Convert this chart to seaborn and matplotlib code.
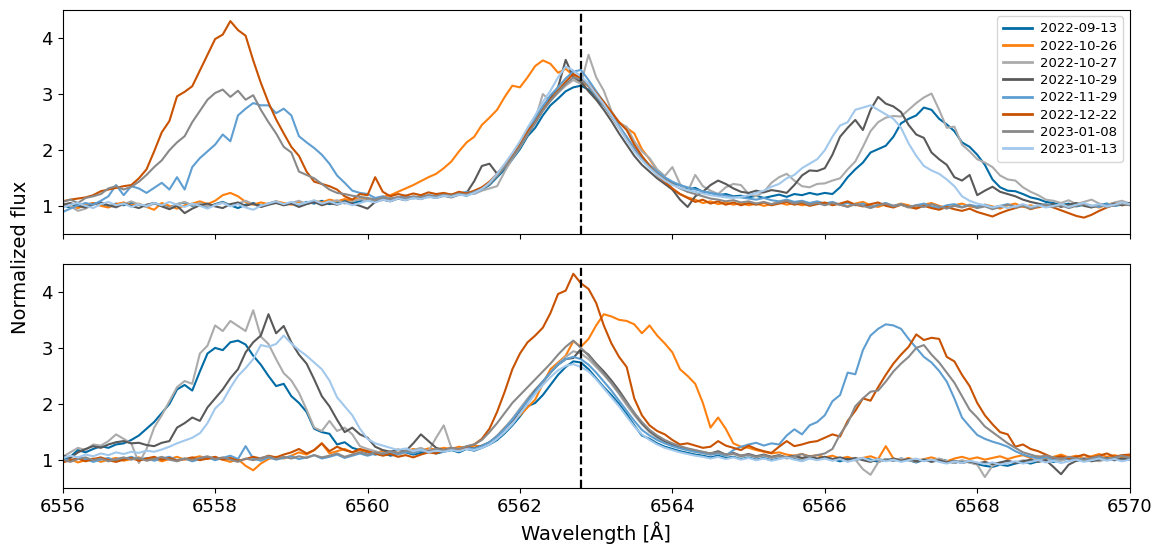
import numpy as np
import pandas as pd
import matplotlib
matplotlib.use("Agg")
import matplotlib.pyplot as plt
import seaborn as sns

# wavelength grid of the spectra (Angstrom)
wavelength = np.round(np.arange(6556.0, 6570.05, 0.1), 1)
line_center = 6562.8

dates = ["2022-09-13", "2022-10-26", "2022-10-27", "2022-10-29",
         "2022-11-29", "2022-12-22", "2023-01-08", "2023-01-13"]
colors = ["#006BA4", "#FF800E", "#ABABAB", "#595959",
          "#5F9ED1", "#C85200", "#898989", "#A2C8EC"]

###### top panel fluxes ######
top_0913 = [
    1.02, 0.98, 1.04, 1.01, 1.06, 1.03, 0.99, 1.05, 1.02, 1.07,
    1.03, 1.00, 1.06, 1.02, 0.98, 1.04, 1.07, 1.01, 1.05, 0.99,
    1.04, 1.08, 1.02, 0.97, 1.03, 1.06, 1.01, 1.05, 1.09, 1.03,
    1.06, 1.02, 1.08, 1.05, 1.10, 1.04, 1.07, 1.11, 1.06, 1.09,
    1.12, 1.08, 1.13, 1.10, 1.15, 1.12, 1.17, 1.14, 1.18, 1.16,
    1.20, 1.17, 1.22, 1.19, 1.25, 1.30, 1.38, 1.52, 1.66, 1.84,
    2.02, 2.25, 2.40, 2.62, 2.80, 2.92, 3.05, 3.12, 3.15, 3.08,
    2.92, 2.80, 2.62, 2.42, 2.22, 2.02, 1.86, 1.72, 1.60, 1.50,
    1.42, 1.38, 1.30, 1.33, 1.26, 1.24, 1.20, 1.22, 1.18, 1.19,
    1.16, 1.19, 1.15, 1.18, 1.21, 1.17, 1.22, 1.20, 1.24, 1.21,
    1.24, 1.22, 1.34, 1.52, 1.66, 1.78, 1.96, 2.02, 2.08, 2.24,
    2.48, 2.56, 2.62, 2.76, 2.72, 2.56, 2.46, 2.34, 2.14, 2.06,
    1.92, 1.74, 1.48, 1.34, 1.28, 1.27, 1.22, 1.16, 1.13, 1.08,
    1.06, 1.02, 1.05, 1.00, 1.03, 0.99, 1.02, 1.05, 1.01, 1.03,
    1.04]
top_1026 = [
    1.04, 1.00, 0.97, 1.03, 1.06, 1.01, 0.98, 1.04, 1.07, 1.02,
    1.05, 0.99, 0.94, 1.06, 1.01, 0.96, 1.02, 1.05, 1.09, 1.04,
    1.10, 1.20, 1.24, 1.18, 1.08, 1.03, 1.07, 1.04, 1.09, 1.06,
    1.03, 1.08, 1.05, 1.10, 1.07, 1.12, 1.09, 1.13, 1.10, 1.15,
    1.14, 1.12, 1.17, 1.20, 1.26, 1.32, 1.38, 1.45, 1.52, 1.58,
    1.68, 1.80, 1.98, 2.14, 2.24, 2.45, 2.58, 2.72, 2.95, 3.15,
    3.12, 3.30, 3.50, 3.60, 3.54, 3.38, 3.45, 3.33, 3.22, 3.14,
    3.00, 2.85, 2.66, 2.50, 2.40, 2.30, 2.02, 1.84, 1.64, 1.46,
    1.30, 1.22, 1.16, 1.12, 1.06, 1.09, 1.04, 1.07, 1.03, 1.06,
    1.02, 1.05, 1.01, 1.04, 1.07, 1.03, 1.06, 1.02, 1.05, 1.08,
    1.04, 1.07, 1.03, 1.00, 1.05, 1.08, 1.02, 0.99, 1.04, 1.01,
    1.05, 1.02, 0.98, 1.03, 1.06, 1.01, 0.97, 1.02, 1.05, 1.00,
    0.98, 1.03, 1.00, 0.96, 1.02, 1.05, 0.99, 1.02, 0.98, 1.03,
    1.00, 1.04, 0.99, 1.02, 1.05, 1.01, 0.98, 1.03, 1.06, 1.02,
    1.04]
top_1027 = [
    1.05, 1.00, 0.92, 0.96, 1.03, 1.07, 1.02, 0.98, 1.04, 1.09,
    1.03, 0.99, 1.05, 1.01, 0.97, 1.04, 1.08, 1.02, 1.06, 1.00,
    1.03, 1.07, 1.01, 1.05, 1.10, 1.04, 0.99, 1.03, 1.08, 1.02,
    1.06, 1.10, 1.04, 1.08, 1.03, 1.07, 1.11, 1.05, 1.09, 1.13,
    1.10, 1.14, 1.11, 1.16, 1.13, 1.17, 1.15, 1.19, 1.16, 1.21,
    1.18, 1.22, 1.20, 1.24, 1.22, 1.28, 1.32, 1.36, 1.62, 1.85,
    2.05, 2.28, 2.55, 3.00, 2.88, 3.02, 3.15, 3.25, 3.18, 3.70,
    3.30, 3.06, 2.70, 2.48, 2.42, 2.16, 1.98, 1.86, 1.66, 1.54,
    1.70, 1.40, 1.26, 1.56, 1.36, 1.28, 1.22, 1.34, 1.40, 1.38,
    1.22, 1.18, 1.26, 1.42, 1.52, 1.58, 1.46, 1.36, 1.34, 1.40,
    1.41, 1.46, 1.50, 1.66, 1.80, 2.06, 2.34, 2.50, 2.58, 2.61,
    2.60, 2.72, 2.84, 2.94, 3.01, 2.72, 2.40, 2.42, 2.10, 1.98,
    1.84, 1.78, 1.70, 1.55, 1.48, 1.46, 1.34, 1.26, 1.20, 1.12,
    1.10, 1.06, 1.11, 1.04, 1.08, 1.12, 1.05, 1.02, 1.07, 1.10,
    1.05]
top_1029 = [
    1.03, 1.06, 1.01, 0.98, 1.04, 1.07, 1.02, 0.99, 1.05, 1.01,
    0.97, 1.03, 1.06, 1.00, 0.95, 1.01, 0.88, 0.96, 1.02, 1.05,
    1.00, 0.97, 1.04, 1.07, 1.01, 1.05, 0.99, 1.03, 1.06, 1.02,
    1.05, 0.99, 1.04, 1.08, 1.02, 1.06, 1.03, 1.08, 1.05, 1.01,
    0.96, 1.08, 1.12, 1.09, 1.14, 1.11, 1.16, 1.13, 1.18, 1.15,
    1.19, 1.16, 1.21, 1.24, 1.45, 1.72, 1.76, 1.58, 1.74, 1.90,
    2.10, 2.34, 2.56, 2.78, 2.95, 3.12, 3.61, 3.30, 3.22, 3.05,
    2.90, 2.72, 2.52, 2.30, 2.10, 1.90, 1.74, 1.62, 1.50, 1.40,
    1.30, 1.12, 0.99, 1.18, 1.26, 1.38, 1.46, 1.40, 1.32, 1.26,
    1.24, 1.28, 1.25, 1.29, 1.27, 1.24, 1.38, 1.55, 1.64, 1.63,
    1.68, 1.92, 2.24, 2.40, 2.54, 2.36, 2.72, 2.95, 2.83, 2.78,
    2.68, 2.45, 2.28, 2.22, 1.96, 1.84, 1.74, 1.52, 1.46, 1.56,
    1.20, 1.28, 1.35, 1.26, 1.22, 1.18, 1.12, 1.08, 1.05, 1.02,
    1.04, 0.99, 1.03, 1.06, 1.01, 0.98, 1.03, 1.00, 1.05, 1.02,
    1.06]
top_1129 = [
    0.90, 0.96, 1.02, 1.06, 1.03, 1.10, 1.18, 1.38, 1.20, 1.36,
    1.32, 1.24, 1.33, 1.42, 1.30, 1.52, 1.30, 1.70, 1.86, 1.98,
    2.10, 2.28, 2.16, 2.62, 2.74, 2.84, 2.80, 2.80, 2.66, 2.74,
    2.62, 2.25, 2.14, 2.04, 1.92, 1.76, 1.55, 1.42, 1.28, 1.24,
    1.22, 1.15, 1.18, 1.13, 1.16, 1.19, 1.14, 1.17, 1.20, 1.18,
    1.21, 1.19, 1.23, 1.26, 1.24, 1.30, 1.40, 1.55, 1.72, 1.90,
    2.10, 2.36, 2.55, 2.78, 2.98, 3.12, 3.28, 3.40, 3.43, 3.25,
    3.05, 2.86, 2.64, 2.44, 2.24, 2.04, 1.88, 1.74, 1.62, 1.52,
    1.44, 1.38, 1.34, 1.30, 1.27, 1.24, 1.22, 1.19, 1.17, 1.16,
    1.14, 1.12, 1.15, 1.11, 1.09, 1.12, 1.08, 1.10, 1.06, 1.09,
    1.05, 1.08, 1.03, 1.06, 1.02, 1.05, 0.99, 1.03, 1.06, 1.01,
    1.04, 0.99, 1.02, 1.05, 1.00, 0.97, 1.02, 1.04, 0.99, 1.03,
    1.00, 1.03, 0.98, 1.01, 1.04, 0.99, 1.02, 0.97, 1.01, 1.04,
    1.00, 1.03, 0.98, 1.02, 1.05, 1.01, 0.99, 1.04, 1.01, 1.05,
    1.03]
top_1222 = [
    1.09, 1.12, 1.14, 1.16, 1.20, 1.27, 1.30, 1.33, 1.36, 1.38,
    1.50, 1.66, 1.98, 2.32, 2.52, 2.96, 3.04, 3.14, 3.42, 3.70,
    3.98, 4.06, 4.30, 4.14, 4.04, 3.60, 3.20, 2.85, 2.55, 2.30,
    2.06, 1.90, 1.62, 1.44, 1.40, 1.36, 1.30, 1.18, 1.12, 1.22,
    1.20, 1.52, 1.26, 1.18, 1.22, 1.19, 1.23, 1.20, 1.25, 1.22,
    1.24, 1.21, 1.26, 1.23, 1.28, 1.34, 1.44, 1.58, 1.74, 1.92,
    2.12, 2.34, 2.50, 2.72, 2.90, 3.06, 3.22, 3.36, 3.28, 3.18,
    3.02, 2.86, 2.68, 2.50, 2.36, 2.10, 1.90, 1.72, 1.56, 1.44,
    1.32, 1.22, 1.15, 1.08, 1.12, 1.05, 1.09, 1.03, 1.07, 1.02,
    1.06, 1.03, 1.07, 1.02, 1.05, 1.08, 1.03, 1.06, 1.01, 1.04,
    1.07, 1.02, 1.05, 1.09, 1.03, 1.00, 1.04, 1.07, 1.01, 0.98,
    1.03, 0.99, 0.96, 1.01, 0.97, 0.94, 0.99, 0.95, 0.92, 0.96,
    0.90, 0.86, 0.82, 0.88, 0.93, 0.97, 1.01, 0.95, 0.99, 1.02,
    0.98, 0.93, 0.88, 0.83, 0.80, 0.85, 0.92, 0.98, 1.03, 1.06,
    1.03]
top_0108 = [
    1.08, 1.12, 1.06, 1.15, 1.18, 1.22, 1.32, 1.36, 1.30, 1.35,
    1.44, 1.56, 1.70, 1.82, 2.00, 2.14, 2.25, 2.50, 2.70, 2.90,
    3.02, 3.08, 2.95, 3.06, 2.90, 2.98, 2.72, 2.50, 2.30, 2.06,
    1.96, 1.62, 1.56, 1.50, 1.40, 1.30, 1.24, 1.22, 1.19, 1.17,
    1.15, 1.12, 1.16, 1.13, 1.17, 1.14, 1.18, 1.16, 1.20, 1.18,
    1.21, 1.19, 1.23, 1.21, 1.26, 1.31, 1.40, 1.54, 1.70, 1.87,
    2.06, 2.28, 2.48, 2.70, 2.88, 3.04, 3.18, 3.30, 3.26, 3.14,
    2.96, 2.80, 2.60, 2.40, 2.20, 2.00, 1.84, 1.70, 1.58, 1.48,
    1.40, 1.32, 1.26, 1.22, 1.18, 1.14, 1.12, 1.09, 1.11, 1.07,
    1.09, 1.05, 1.08, 1.04, 1.07, 1.10, 1.05, 1.08, 1.03, 1.06,
    1.02, 1.06, 1.03, 0.99, 1.04, 1.01, 0.97, 1.02, 1.05, 1.00,
    1.03, 0.98, 1.02, 0.99, 1.04, 1.00, 0.96, 1.01, 0.98, 1.02,
    0.97, 1.00, 0.95, 0.99, 1.03, 0.98, 1.01, 0.96, 1.00, 1.03,
    0.99, 1.02, 0.97, 1.01, 1.04, 1.00, 1.03, 0.99, 1.02, 1.05,
    1.02]
top_0113 = [
    0.98, 1.03, 1.06, 1.01, 0.97, 1.04, 1.08, 1.02, 1.05, 0.99,
    1.04, 1.01, 1.06, 1.02, 1.08, 1.03, 0.99, 1.05, 1.01, 0.96,
    1.02, 1.06, 1.00, 1.04, 0.98, 0.94, 1.01, 1.05, 1.09, 1.04,
    1.08, 1.03, 1.07, 1.11, 1.05, 1.09, 1.04, 1.07, 1.02, 1.06,
    1.10, 1.07, 1.12, 1.09, 1.14, 1.11, 1.15, 1.13, 1.17, 1.15,
    1.19, 1.17, 1.21, 1.19, 1.24, 1.31, 1.42, 1.58, 1.76, 1.95,
    2.16, 2.40, 2.62, 2.86, 3.06, 3.30, 3.49, 3.42, 3.32, 3.18,
    3.00, 2.82, 2.62, 2.40, 2.18, 1.98, 1.82, 1.68, 1.56, 1.46,
    1.38, 1.33, 1.29, 1.26, 1.23, 1.20, 1.18, 1.16, 1.15, 1.17,
    1.20, 1.24, 1.28, 1.35, 1.40, 1.50, 1.56, 1.68, 1.76, 1.84,
    2.00, 2.24, 2.44, 2.50, 2.72, 2.76, 2.80, 2.72, 2.64, 2.56,
    2.40, 2.12, 1.90, 1.72, 1.64, 1.58, 1.48, 1.36, 1.18, 1.10,
    1.05, 1.02, 0.98, 1.01, 0.97, 1.00, 1.04, 0.99, 1.02, 0.98,
    1.01, 1.04, 0.99, 1.03, 1.06, 1.01, 1.04, 1.00, 1.03, 1.07,
    1.04]

###### bottom panel fluxes ######
bot_0913 = [
    1.00, 1.06, 1.18, 1.14, 1.20, 1.25, 1.22, 1.28, 1.30, 1.36,
    1.44, 1.56, 1.68, 1.84, 2.00, 2.26, 2.34, 2.24, 2.58, 2.90,
    3.00, 2.96, 3.10, 3.13, 3.06, 2.86, 2.70, 2.50, 2.32, 2.36,
    2.14, 2.02, 1.86, 1.56, 1.50, 1.47, 1.28, 1.32, 1.22, 1.18,
    1.14, 1.10, 1.13, 1.08, 1.11, 1.14, 1.10, 1.13, 1.16, 1.12,
    1.15, 1.18, 1.14, 1.20, 1.17, 1.22, 1.28, 1.36, 1.48, 1.62,
    1.78, 1.96, 2.02, 2.16, 2.34, 2.52, 2.66, 2.76, 2.74, 2.62,
    2.46, 2.30, 2.16, 2.00, 1.82, 1.62, 1.44, 1.38, 1.30, 1.24,
    1.20, 1.16, 1.13, 1.10, 1.08, 1.05, 1.08, 1.04, 1.06, 1.02,
    1.05, 1.01, 1.04, 1.00, 1.03, 1.06, 1.02, 0.99, 1.04, 1.01,
    1.05, 1.02, 0.98, 1.03, 1.00, 1.04, 1.01, 0.97, 1.02, 0.99,
    1.03, 1.00, 0.96, 1.01, 0.98, 1.02, 0.99, 0.95, 0.99, 0.96,
    0.93, 0.90, 0.88, 0.92, 0.90, 0.94, 0.97, 0.94, 0.98, 1.00,
    0.97, 1.00, 1.03, 0.99, 1.02, 1.05, 1.01, 1.04, 1.00, 1.03,
    1.05]
bot_1026 = [
    0.98, 1.02, 0.96, 1.00, 1.03, 0.97, 1.01, 1.04, 0.99, 1.02,
    1.05, 1.00, 1.03, 0.98, 1.02, 1.06, 1.01, 1.04, 1.07, 1.02,
    1.05, 1.01, 0.97, 1.02, 0.90, 0.82, 0.94, 1.02, 1.06, 1.03,
    1.08, 1.14, 1.10, 1.18, 1.30, 1.12, 1.16, 1.20, 1.14, 1.18,
    1.15, 1.12, 1.17, 1.14, 1.18, 1.16, 1.20, 1.17, 1.21, 1.19,
    1.22, 1.20, 1.24, 1.22, 1.26, 1.24, 1.30, 1.42, 1.58, 1.72,
    1.80, 1.94, 2.08, 2.36, 2.62, 2.74, 2.86, 3.12, 3.02, 3.16,
    3.40, 3.60, 3.56, 3.50, 3.48, 3.42, 3.26, 3.40, 3.22, 3.08,
    2.92, 2.62, 2.50, 2.36, 2.02, 1.58, 1.76, 1.56, 1.30, 1.24,
    1.22, 1.18, 1.15, 1.12, 1.14, 1.10, 1.08, 1.11, 1.07, 1.09,
    1.05, 1.08, 1.03, 1.06, 1.01, 1.04, 1.07, 1.02, 1.25, 1.03,
    1.00, 1.04, 0.99, 1.02, 1.05, 1.01, 0.98, 1.03, 1.06, 1.02,
    1.05, 1.01, 1.04, 1.07, 1.02, 1.06, 1.09, 1.04, 1.07, 1.03,
    1.06, 1.10, 1.05, 1.08, 1.04, 1.07, 1.11, 1.06, 1.09, 1.05,
    1.08]
bot_1027 = [
    1.06, 1.14, 1.22, 1.18, 1.28, 1.26, 1.34, 1.46, 1.38, 1.30,
    0.95, 1.20, 1.58, 1.80, 2.05, 2.30, 2.41, 2.36, 2.90, 3.04,
    3.40, 3.30, 3.48, 3.39, 3.30, 3.67, 3.20, 3.07, 2.80, 2.55,
    2.42, 2.20, 1.90, 1.58, 1.52, 1.70, 1.52, 1.58, 1.46, 1.25,
    1.20, 1.16, 1.12, 1.15, 1.10, 1.14, 1.18, 1.22, 1.16, 1.40,
    1.62, 1.22, 1.18, 1.21, 1.19, 1.24, 1.32, 1.44, 1.58, 1.74,
    1.92, 2.10, 2.26, 2.40, 2.56, 2.72, 2.84, 2.94, 2.90, 2.80,
    2.66, 2.52, 2.36, 2.18, 1.98, 1.80, 1.64, 1.50, 1.40, 1.32,
    1.26, 1.22, 1.18, 1.15, 1.12, 1.10, 1.13, 1.08, 1.11, 1.06,
    1.09, 1.05, 1.08, 1.04, 1.07, 1.03, 1.06, 1.02, 1.05, 1.01,
    1.04, 1.00, 1.03, 0.98, 1.01, 0.84, 0.74, 0.96, 1.02, 0.99,
    1.03, 1.00, 0.97, 1.02, 0.99, 1.03, 0.98, 0.95, 1.00, 0.96,
    0.92, 0.70, 0.90, 0.95, 0.99, 0.96, 1.00, 0.97, 1.01, 0.98,
    1.02, 0.99, 1.03, 1.00, 1.04, 1.01, 0.98, 1.02, 1.05, 1.01,
    1.04]
bot_1029 = [
    1.08, 1.04, 1.14, 1.20, 1.25, 1.22, 1.28, 1.32, 1.34, 1.30,
    1.31, 1.27, 1.25, 1.31, 1.34, 1.58, 1.66, 1.76, 1.70, 1.94,
    2.10, 2.26, 2.46, 2.62, 2.92, 3.10, 3.22, 3.60, 3.26, 3.39,
    3.10, 2.88, 2.72, 2.44, 2.14, 1.96, 1.72, 1.50, 1.58, 1.46,
    1.40, 1.24, 1.18, 1.15, 1.19, 1.16, 1.30, 1.46, 1.34, 1.22,
    1.18, 1.21, 1.19, 1.23, 1.21, 1.26, 1.32, 1.42, 1.56, 1.70,
    1.88, 2.06, 2.24, 2.40, 2.56, 2.70, 2.80, 2.82, 2.98, 2.88,
    2.72, 2.58, 2.42, 2.24, 2.04, 1.84, 1.66, 1.52, 1.42, 1.34,
    1.28, 1.24, 1.20, 1.17, 1.14, 1.12, 1.16, 1.10, 1.13, 1.08,
    1.11, 1.07, 1.10, 1.06, 1.09, 1.05, 1.08, 1.04, 1.07, 1.03,
    1.06, 1.02, 1.05, 1.01, 1.04, 1.00, 0.97, 1.02, 0.99, 1.03,
    0.99, 1.02, 0.98, 1.01, 0.97, 1.00, 0.96, 0.99, 0.95, 0.98,
    0.94, 0.97, 0.93, 0.96, 0.99, 0.95, 0.98, 1.01, 0.97, 1.00,
    0.88, 0.75, 0.92, 0.99, 1.02, 0.98, 1.01, 1.04, 1.00, 1.03,
    1.01]
bot_1129 = [
    1.03, 0.99, 1.05, 1.02, 0.97, 1.01, 1.04, 0.98, 1.02, 1.06,
    1.01, 1.04, 0.99, 1.03, 1.06, 1.00, 1.03, 0.98, 1.02, 1.05,
    1.00, 1.04, 1.08, 1.02, 1.25, 1.03, 0.99, 1.05, 1.01, 1.04,
    1.07, 1.02, 1.05, 1.09, 1.03, 1.06, 1.10, 1.04, 1.08, 1.12,
    1.08, 1.12, 1.09, 1.14, 1.11, 1.15, 1.12, 1.17, 1.14, 1.18,
    1.16, 1.20, 1.18, 1.22, 1.20, 1.25, 1.32, 1.42, 1.56, 1.72,
    1.90, 2.06, 2.22, 2.40, 2.56, 2.70, 2.80, 2.84, 2.80, 2.70,
    2.56, 2.40, 2.24, 2.06, 1.88, 1.70, 1.54, 1.44, 1.36, 1.30,
    1.25, 1.21, 1.18, 1.15, 1.13, 1.10, 1.12, 1.08, 1.18, 1.24,
    1.28, 1.31, 1.26, 1.30, 1.28, 1.44, 1.55, 1.46, 1.62, 1.68,
    1.80, 2.05, 2.16, 2.56, 2.53, 2.96, 3.22, 3.34, 3.42, 3.40,
    3.34, 3.16, 3.00, 2.84, 2.74, 2.59, 2.40, 2.10, 1.76, 1.60,
    1.45, 1.38, 1.33, 1.29, 1.24, 1.16, 1.10, 1.06, 1.03, 1.05,
    1.02, 1.05, 1.01, 1.04, 1.00, 1.03, 1.06, 1.02, 1.05, 1.08,
    1.04]
bot_1222 = [
    0.96, 1.00, 1.03, 0.98, 1.02, 1.05, 1.00, 0.97, 1.01, 1.04,
    0.99, 1.03, 1.06, 1.01, 1.04, 0.99, 1.02, 1.05, 1.00, 1.03,
    1.06, 1.01, 1.04, 0.99, 1.02, 1.06, 1.03, 1.08, 1.05, 1.10,
    1.14, 1.20, 1.12, 1.18, 1.30, 1.16, 1.24, 1.18, 1.14, 1.20,
    1.16, 1.12, 1.08, 1.11, 1.06, 1.09, 1.05, 1.10, 1.14, 1.12,
    1.18, 1.22, 1.19, 1.24, 1.28, 1.38, 1.56, 1.86, 2.22, 2.62,
    2.90, 3.10, 3.22, 3.36, 3.62, 3.96, 4.02, 4.32, 4.15, 4.05,
    3.80, 3.40, 3.08, 2.84, 2.66, 2.10, 1.80, 1.62, 1.52, 1.46,
    1.36, 1.28, 1.30, 1.26, 1.22, 1.24, 1.34, 1.26, 1.22, 1.18,
    1.26, 1.20, 1.16, 1.13, 1.24, 1.34, 1.25, 1.28, 1.32, 1.34,
    1.40, 1.46, 1.42, 1.70, 1.88, 2.10, 2.06, 2.30, 2.52, 2.72,
    2.88, 3.02, 3.24, 3.14, 3.18, 3.16, 2.84, 2.76, 2.52, 2.32,
    2.02, 1.80, 1.64, 1.50, 1.46, 1.24, 1.28, 1.20, 1.16, 1.10,
    1.04, 1.07, 1.03, 1.06, 1.10, 1.05, 1.08, 1.12, 1.06, 1.09,
    1.10]
bot_0108 = [
    1.01, 0.97, 1.02, 1.05, 1.00, 1.03, 0.98, 1.02, 1.05, 1.01,
    1.04, 0.99, 1.02, 1.06, 1.01, 0.98, 1.03, 1.00, 1.04, 1.07,
    1.02, 1.05, 1.01, 0.97, 1.03, 1.00, 1.04, 1.07, 1.02, 1.06,
    1.03, 1.07, 1.04, 1.09, 1.05, 1.08, 1.12, 1.06, 1.10, 1.14,
    1.10, 1.14, 1.11, 1.16, 1.13, 1.17, 1.15, 1.19, 1.16, 1.20,
    1.18, 1.22, 1.20, 1.25, 1.28, 1.36, 1.50, 1.66, 1.84, 2.02,
    2.16, 2.30, 2.44, 2.58, 2.72, 2.88, 3.02, 3.13, 3.00, 2.86,
    2.70, 2.54, 2.38, 2.20, 2.02, 1.84, 1.68, 1.54, 1.44, 1.36,
    1.30, 1.25, 1.21, 1.18, 1.15, 1.12, 1.14, 1.10, 1.12, 1.08,
    1.10, 1.06, 1.09, 1.05, 1.08, 1.04, 1.07, 1.11, 1.06, 1.09,
    1.12, 1.20, 1.46, 1.66, 1.96, 2.10, 2.22, 2.24, 2.40, 2.58,
    2.72, 2.84, 3.00, 3.05, 2.88, 2.74, 2.56, 2.38, 2.14, 1.90,
    1.76, 1.60, 1.50, 1.40, 1.30, 1.22, 1.14, 1.10, 1.06, 1.08,
    1.05, 1.02, 1.06, 1.03, 1.00, 1.04, 1.07, 1.02, 1.05, 1.08,
    1.04]
bot_0113 = [
    1.04, 1.08, 1.05, 1.10, 1.07, 1.12, 1.09, 1.14, 1.11, 1.15,
    1.13, 1.17, 1.15, 1.19, 1.24, 1.30, 1.35, 1.40, 1.48, 1.66,
    1.92, 2.05, 2.29, 2.50, 2.64, 2.80, 3.05, 3.02, 3.07, 3.22,
    3.08, 2.96, 2.86, 2.74, 2.62, 2.42, 2.12, 1.96, 1.80, 1.56,
    1.38, 1.30, 1.26, 1.22, 1.18, 1.21, 1.16, 1.19, 1.14, 1.17,
    1.15, 1.18, 1.16, 1.20, 1.18, 1.22, 1.28, 1.38, 1.50, 1.64,
    1.82, 2.00, 2.18, 2.34, 2.48, 2.60, 2.68, 2.71, 2.66, 2.58,
    2.44, 2.28, 2.12, 1.96, 1.78, 1.60, 1.46, 1.36, 1.28, 1.22,
    1.18, 1.14, 1.11, 1.08, 1.06, 1.03, 1.06, 1.02, 1.05, 1.01,
    1.04, 1.00, 1.03, 0.99, 1.02, 1.05, 1.01, 0.98, 1.03, 1.00,
    1.03, 0.99, 1.02, 0.97, 1.01, 1.04, 0.99, 1.02, 0.98, 1.01,
    0.97, 1.00, 1.03, 0.98, 1.01, 0.97, 0.94, 0.98, 0.95, 0.99,
    0.96, 0.93, 0.96, 0.92, 0.95, 0.98, 0.94, 0.97, 1.00, 0.96,
    0.99, 0.95, 0.98, 1.01, 0.97, 1.00, 1.03, 0.99, 1.02, 0.98,
    1.01]

top_series = [top_0913, top_1026, top_1027, top_1029,
              top_1129, top_1222, top_0108, top_0113]
bottom_series = [bot_0913, bot_1026, bot_1027, bot_1029,
                 bot_1129, bot_1222, bot_0108, bot_0113]


def long_table(series):
    frames = []
    for date, flux in zip(dates, series):
        frames.append(pd.DataFrame({"wavelength": wavelength,
                                    "flux": flux, "date": date}))
    return pd.concat(frames, ignore_index=True)


df_top = long_table(top_series)
df_bottom = long_table(bottom_series)
palette = dict(zip(dates, colors))

fig, (ax1, ax2) = plt.subplots(2, 1, figsize=(11.61, 5.48), dpi=100,
                               sharex=True, sharey=True)
fig.subplots_adjust(left=0.054, right=0.973, top=0.982, bottom=0.109, hspace=0.13)

sns.lineplot(data=df_top, x="wavelength", y="flux", hue="date", palette=palette,
             estimator=None, errorbar=None, lw=1.5, ax=ax1)
sns.lineplot(data=df_bottom, x="wavelength", y="flux", hue="date", palette=palette,
             estimator=None, errorbar=None, lw=1.5, ax=ax2, legend=False)

for ax in (ax1, ax2):
    ax.axvline(line_center, color="k", ls="--", lw=1.6)
    ax.set_xlim(6556, 6570)
    ax.set_ylim(0.5, 4.5)
    ax.set_xticks(np.arange(6556, 6571, 2))
    ax.set_yticks([1, 2, 3, 4])
    ax.tick_params(labelsize=13)
    ax.set_ylabel("")
    ax.set_xlabel("")

# legend: compact rows like the original
handles, labels = ax1.get_legend_handles_labels()
for h in handles:
    h.set_linewidth(2)
ax1.legend(handles, labels, loc="upper right", fontsize=9.5, title=None,
           labelspacing=0.32, handlelength=2.2, handletextpad=0.6,
           borderpad=0.45)

ax2.set_xlabel("Wavelength [Å]", fontsize=14)
fig.text(0.018, 0.531, "Normalized flux", rotation=90, fontsize=14,
         ha="center", va="center")

plt.savefig("out.png", dpi=100)
